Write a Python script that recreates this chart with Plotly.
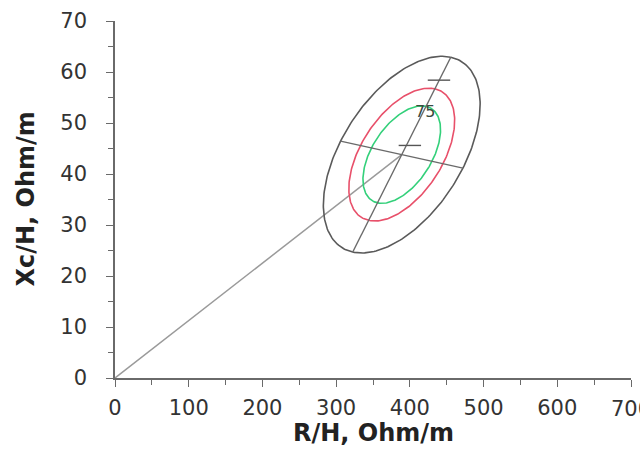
import numpy as np
import plotly.graph_objects as go

# ---- data ----
center = [389.0, 43.8]              # ellipse centre (R/H, Xc/H)
semi_long = [66.5, 19.1]            # conjugate semi-diameter along long axis
semi_short = [83.0, -2.65]          # conjugate semi-diameter along short axis
ellipse_scales = [1.0, 0.675, 0.495]
ellipse_colors = ["#5a5a5a", "#e8506a", "#33d07a"]
origin = [0.0, 0.0]
dash_x = [400.0, 439.5]             # short horizontal markers on long axis
dash_y = [45.6, 58.4]
label_pos = [420.5, 52.3]
label_text = "75"
x_ticks = [0, 100, 200, 300, 400, 500, 600, 700]
y_ticks = [0, 10, 20, 30, 40, 50, 60, 70]
x_title = "R/H, Ohm/m"
y_title = "Xc/H, Ohm/m"

fig = go.Figure()

# line from origin to centre
fig.add_trace(go.Scatter(x=[origin[0], center[0]], y=[origin[1], center[1]],
                         mode="lines", line=dict(color="#9a9a9a", width=1.5),
                         hoverinfo="skip", showlegend=False))

# ellipses
t = np.linspace(0, 2 * np.pi, 241)
for s, c in zip(ellipse_scales, ellipse_colors):
    ex = center[0] + s * (semi_long[0] * np.cos(t) + semi_short[0] * np.sin(t))
    ey = center[1] + s * (semi_long[1] * np.cos(t) + semi_short[1] * np.sin(t))
    fig.add_trace(go.Scatter(x=ex, y=ey, mode="lines",
                             line=dict(color=c, width=1.6),
                             hoverinfo="skip", showlegend=False))

# long and short axes
for d in (semi_long, semi_short):
    fig.add_trace(go.Scatter(x=[center[0] - d[0], center[0] + d[0]],
                             y=[center[1] - d[1], center[1] + d[1]],
                             mode="lines", line=dict(color="#6a6a6a", width=1.4),
                             hoverinfo="skip", showlegend=False))

# dash markers
fig.add_trace(go.Scatter(x=dash_x, y=dash_y, mode="markers",
                         marker=dict(symbol="line-ew", size=16,
                                     line=dict(color="#555555", width=1.4)),
                         hoverinfo="skip", showlegend=False))

fig.add_annotation(x=label_pos[0], y=label_pos[1], text=label_text,
                   showarrow=False, font=dict(family="DejaVu Sans", size=16,
                                              color="#3a4a40"))

tick_font = dict(family="DejaVu Sans", size=21, color="#333333")
axis_common = dict(showgrid=False, zeroline=False, showline=True,
                   linecolor="#6a6a6a", linewidth=1.5,
                   ticks="outside", ticklen=7, tickwidth=1.3, tickcolor="#6a6a6a",
                   tickfont=tick_font, automargin=False)

fig.update_xaxes(range=[0, 700], tickvals=x_ticks,
                 ticktext=[str(v) if v < 700 else "" for v in x_ticks],
                 ticklabelstandoff=3,
                 minor=dict(dtick=50, ticks="outside", ticklen=5,
                            tickcolor="#6a6a6a", tickwidth=1.2),
                 **axis_common)
fig.update_yaxes(range=[0, 70], tickvals=y_ticks,
                 ticktext=[str(v) for v in y_ticks],
                 ticklabelstandoff=15,
                 minor=dict(dtick=5, ticks="outside", ticklen=5,
                            tickcolor="#6a6a6a", tickwidth=1.2),
                 **axis_common)

# last x tick label (cut off by the page edge, as in the original)
fig.add_annotation(x=x_ticks[-1], xref="x", y=0, yref="paper",
                   yshift=-31, text=str(x_ticks[-1]), showarrow=False,
                   xanchor="center", yanchor="middle", font=tick_font)

title_font = dict(family="DejaVu Sans", size=24, color="#222222")
fig.add_annotation(x=0.5, xref="paper", y=0, yref="paper", yshift=-55,
                   text="<b>" + x_title + "</b>", showarrow=False,
                   xanchor="center", yanchor="middle", font=title_font)
fig.add_annotation(x=0, xref="paper", xshift=-90, y=0.5, yref="paper",
                   text="<b>" + y_title + "</b>", showarrow=False, textangle=-90,
                   xanchor="center", yanchor="middle", font=title_font)

fig.update_layout(width=640, height=458,
                  margin=dict(l=115, r=9, t=21, b=80),
                  paper_bgcolor="white", plot_bgcolor="white")

fig.write_html("out.html")
